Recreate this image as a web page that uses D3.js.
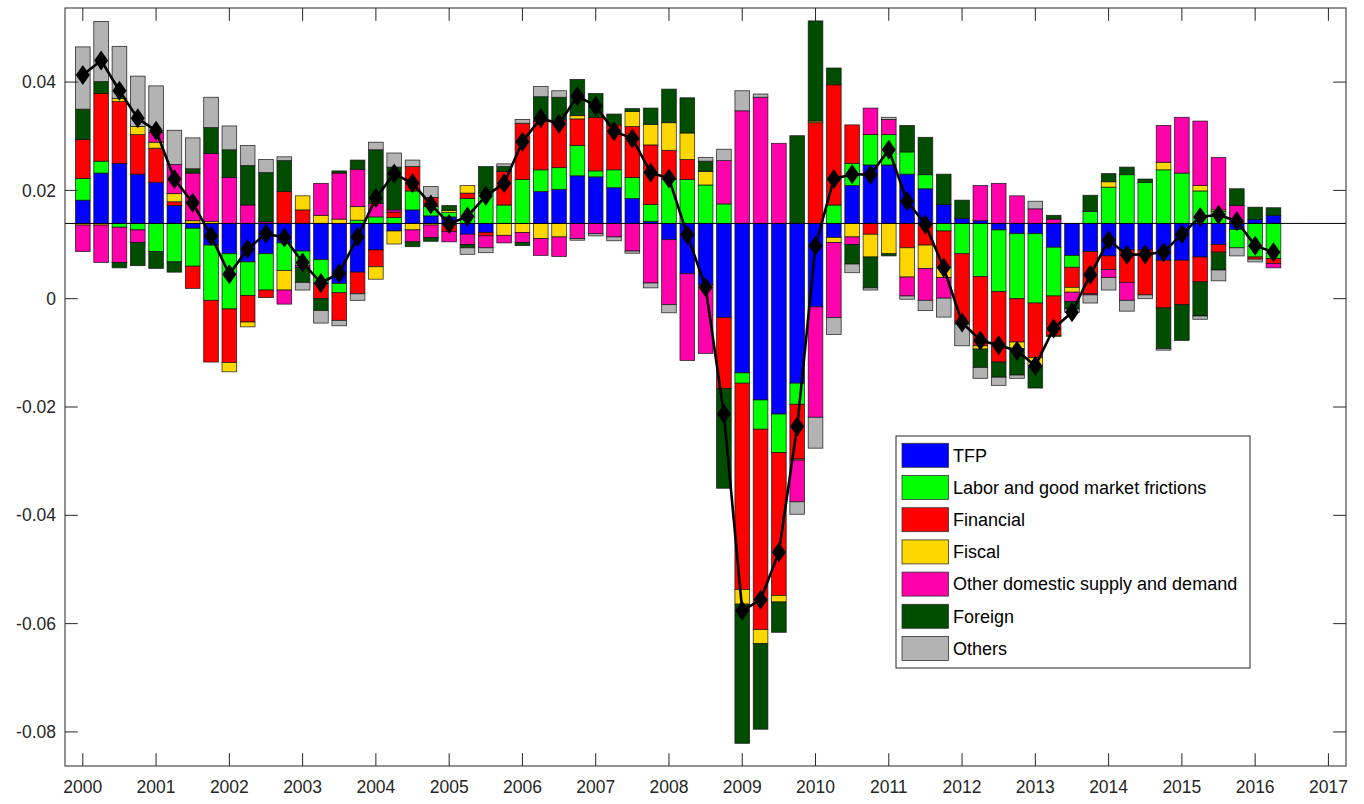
<!DOCTYPE html>
<html>
<head>
<meta charset="utf-8">
<script src="https://cdn.jsdelivr.net/npm/d3@7"></script>
<style>
  body { margin: 0; background: #fff; }
  svg { display: block; font-family: Arial, "Liberation Sans", Helvetica, sans-serif; }
  .tick-label { font-size: 17.5px; fill: #262626; }
  .legend-label { font-size: 18px; fill: #000; }
</style>
</head>
<body>
<svg id="chart" width="1364" height="804"></svg>
<script>
(function() {
  // quarterly data, 2000Q1 .. 2016Q2, contributions in 0.001 units
  var quarters = d3.range(66).map(function(i) { return 2000 + i * 0.25; });
  var baseline = 0.0139;

  var seriesNames = ['TFP', 'Labor and good market frictions', 'Financial', 'Fiscal',
    'Other domestic supply and demand', 'Foreign', 'Others'];
  var seriesColors = ['#0000ff', '#00ff00', '#ff0000', '#ffd700', '#ff00aa', '#004d00', '#b3b3b3'];

  var tfp = [4.3, 9.3, 11.1, 9.1, 7.6, 3.3, -0.9, -4.0, -5.6, -7.1, -5.6, -3.6, -5.1, -6.7, -11.1, -9.0,
    -4.9, -1.4, 2.5, 1.4, 1.2, -2.0, -1.7, 0, 0, 5.9, 6.3, 8.8, 8.6, 6.6, 4.6, 0.4,
    -3.0, -9.3, -11.3, -17.4, -27.6, -32.6, -35.2, -29.5, -15.4, -2.6, 7.0, 10.8, 10.8, 9.1, 6.4, 3.5,
    0.9, 0.5, -1.2, -1.9, -1.9, -4.4, -5.9, -5.2, -6.0, -4.9, -4.9, -6.8, -6.8, -6.2, -3.9, -1.1, 0.7, 1.5];
  var labor = [4.0, 2.2, -0.7, -1.2, -5.2, -7.1, -7.0, -10.2, -10.2, -6.2, -6.7, -5.1, -2.7, -4.4, -1.7, 0.6,
    1.2, 1.1, 3.5, 1.7, 0.8, 4.6, 5.6, 3.4, 8.1, 4.0, 4.0, 5.6, 1.1, 3.3, 3.9, 3.1,
    8.1, 8.1, 7.1, 3.6, -1.9, -5.4, -7.1, -3.9, 0, 3.4, 4.1, 5.6, 5.6, 4.1, 2.6, -1.4,
    -5.6, -9.8, -11.4, -12.0, -12.8, -9.0, -2.2, 2.2, 6.7, 9.0, 7.6, 9.9, 9.3, 6.0, 2.2, -3.4, -6.2, -6.5];
  var financial = [7.2, 12.5, 11.4, 7.3, 6.3, 0.7, -4.1, -11.4, -9.9, -4.9, -1.4, 5.9, 2.5, -2.8, -5.1, -4.0,
    -3.1, 1.0, 4.5, 1.7, -1.5, 1.0, -0.6, 6.2, 10.4, 9.0, 8.8, 4.9, 9.9, 8.3, 9.4, 11.0,
    5.4, 3.7, 0, -13.1, -38.1, -37.0, -26.4, -10.1, 18.6, 22.2, 7.1, -2.0, 0, -4.5, -4.0, -6.7,
    -13.0, -12.8, -13.0, -8.0, -10.1, -7.3, -3.7, -7.8, -2.5, -6.0, -8.3, -8.8, -8.2, -4.6, -1.4, 0, -0.4, -0.9];
  var fiscal = [-0.3, -0.3, 0.6, 1.5, 1.1, 1.5, 0.5, 0.4, -1.7, -0.9, 0, -3.6, 2.6, 1.5, 0.8, 2.5,
    -2.3, -2.4, -1.2, -0.3, 0.4, 1.4, 0, -2.2, -1.7, -2.8, -2.5, 0.6, 0, 0, 2.8, 3.8,
    5.1, 4.9, 2.5, 0, -2.7, -2.6, -1.2, -0.2, 0.3, -0.9, -2.5, -4.2, -5.6, -5.4, -4.3, -1.9,
    0, -0.6, 0, -1.2, -1.5, -0.2, -0.9, 0, 1.0, 0, 0, 1.4, 0, 1.0, 0.3, 0, 0, 0];
  var otherDomestic = [-4.9, -6.9, -6.5, -2.3, 1.8, 5.4, 8.8, 12.5, 8.5, 3.4, 0.3, -2.6, -0.3, 5.9, 8.5, 6.9,
    2.5, 0.4, -2.2, -2.3, -1.9, -1.9, -2.2, -1.4, -1.8, -3.1, -3.6, -2.8, -1.9, -2.5, -5.1, -11.0,
    -12.0, -16.0, -12.7, 8.0, 20.8, 23.3, 14.8, -7.7, -20.4, -13.9, -1.4, 4.9, 2.8, -3.5, -5.9, -3.8,
    0, 6.5, 7.4, 5.1, 2.7, 0.8, -1.7, -0.2, -1.5, -3.3, 0, 6.8, 10.3, 11.9, 9.7, 3.3, 0, -0.8];
  var foreign = [5.6, 2.2, -1.0, -4.3, -3.1, -1.9, 0.8, 4.8, 5.1, 7.3, 9.1, 5.7, -2.8, -2.2, 0.4, 1.7,
    9.9, 7.9, -0.9, -0.7, 0.9, -0.6, 4.9, 0.9, -0.6, 4.5, 4.2, 6.7, 4.4, 2.0, 0.5, 3.0,
    6.2, 6.5, 1.9, -18.4, -25.7, -15.8, -5.6, 16.2, 18.5, 3.1, -3.6, -5.7, -0.4, 4.9, 6.9, 5.6,
    3.4, -3.4, -2.8, -4.9, -4.1, 0.7, -1.4, 3.0, 1.5, 1.4, 0.6, -7.5, -6.6, -6.3, -3.3, 3.1, 2.3, 1.4];
  var others = [11.5, 11.1, 9.6, 9.3, 8.6, 6.3, 5.7, 5.6, 4.4, 3.7, 2.4, 0.7, -1.4, -2.3, -1.0, -1.2,
    1.4, 2.6, 1.2, 2.0, 0, -1.2, -0.9, 0.5, 0.7, 1.9, 1.2, -0.3, -0.4, -0.7, -0.4, -0.9,
    -1.5, 0, 0.7, 2.1, 3.7, 0.6, 0, -2.3, -5.7, -3.1, -1.6, -0.4, 0.4, -0.6, -1.9, -3.5,
    -4.0, -2.0, -1.5, -0.6, 1.4, 0, -0.6, -1.5, -2.3, -2.0, -0.7, -0.3, 0, -0.6, -2.0, -1.5, -0.5, 0];

  var yTicks = [0.04, 0.02, 0, -0.02, -0.04, -0.06, -0.08];
  var xTicks = d3.range(2000, 2018);

  var seriesValues = [tfp, labor, financial, fiscal, otherDomestic, foreign, others];

  var margin = { left: 65, top: 8, right: 1346, bottom: 766 };
  var svg = d3.select('#chart');

  var x = d3.scaleLinear().domain([1999.757, 2017.24]).range([margin.left, margin.right]);
  var y = d3.scaleLinear().domain([-0.08629, 0.05368]).range([margin.bottom, margin.top]);
  var barWidth = (x(0.25) - x(0)) * 0.8;

  var rows = quarters.map(function(q, i) {
    var row = { q: q };
    seriesNames.forEach(function(name, k) { row[name] = seriesValues[k][i] / 1000; });
    return row;
  });

  var stacked = d3.stack().keys(seriesNames).offset(d3.stackOffsetDiverging)(rows);

  var totals = rows.map(function(row) {
    return baseline + d3.sum(seriesNames, function(name) { return row[name]; });
  });

  var plot = svg.append('g');

  // bars
  stacked.forEach(function(layer, k) {
    plot.append('g').selectAll('rect').data(layer).enter().append('rect')
      .attr('x', function(d) { return x(d.data.q) - barWidth / 2; })
      .attr('width', barWidth)
      .attr('y', function(d) { return y(baseline + d[1]); })
      .attr('height', function(d) { return Math.abs(y(baseline + d[0]) - y(baseline + d[1])); })
      .attr('fill', seriesColors[k])
      .attr('stroke', '#111')
      .attr('stroke-width', 0.8)
      .attr('stroke-opacity', 0.85);
  });

  // baseline
  plot.append('line')
    .attr('x1', margin.left).attr('x2', margin.right)
    .attr('y1', y(baseline)).attr('y2', y(baseline))
    .attr('stroke', '#000').attr('stroke-width', 1);

  // total line with diamonds
  var line = d3.line()
    .x(function(d, i) { return x(quarters[i]); })
    .y(function(d) { return y(d); });

  plot.append('path').datum(totals)
    .attr('d', line)
    .attr('fill', 'none')
    .attr('stroke', '#000')
    .attr('stroke-width', 2.6)
    .attr('stroke-linejoin', 'round');

  plot.append('g').selectAll('path').data(totals).enter().append('path')
    .attr('transform', function(d, i) { return 'translate(' + x(quarters[i]) + ',' + y(d) + ')'; })
    .attr('d', 'M0,-10L7,0L0,10L-7,0Z')
    .attr('fill', '#000');

  // frame and ticks
  var axes = svg.append('g').attr('stroke', '#262626').attr('stroke-width', 1);
  var tickLen = 12.8;

  axes.append('rect')
    .attr('x', margin.left).attr('y', margin.top)
    .attr('width', margin.right - margin.left).attr('height', margin.bottom - margin.top)
    .attr('fill', 'none');

  axes.selectAll('.y-tick-l').data(yTicks).enter().append('line')
    .attr('x1', margin.left).attr('x2', margin.left + tickLen)
    .attr('y1', y).attr('y2', y);
  axes.selectAll('.y-tick-r').data(yTicks).enter().append('line')
    .attr('x1', margin.right).attr('x2', margin.right - tickLen)
    .attr('y1', y).attr('y2', y);
  axes.selectAll('.x-tick-b').data(xTicks).enter().append('line')
    .attr('x1', x).attr('x2', x)
    .attr('y1', margin.bottom).attr('y2', margin.bottom - tickLen);
  axes.selectAll('.x-tick-t').data(xTicks).enter().append('line')
    .attr('x1', x).attr('x2', x)
    .attr('y1', margin.top).attr('y2', margin.top + tickLen);

  svg.append('g').selectAll('text').data(yTicks).enter().append('text')
    .classed('tick-label', true)
    .attr('x', margin.left - 9)
    .attr('y', y)
    .attr('dy', '0.35em')
    .attr('text-anchor', 'end')
    .text(function(d) { return d === 0 ? '0' : String(d); });

  svg.append('g').selectAll('text').data(xTicks).enter().append('text')
    .classed('tick-label', true)
    .attr('x', x)
    .attr('y', margin.bottom + 21)
    .attr('dy', '0.35em')
    .attr('text-anchor', 'middle')
    .text(String);

  // legend
  var legend = svg.append('g').attr('transform', 'translate(896,436)');
  legend.append('rect')
    .attr('width', 354).attr('height', 232)
    .attr('fill', '#fff').attr('stroke', '#262626').attr('stroke-width', 1);

  var items = legend.selectAll('.item').data(seriesNames).enter().append('g')
    .attr('transform', function(d, i) { return 'translate(6,' + (19.3 + i * 32.2) + ')'; });
  items.append('rect')
    .attr('x', 0).attr('y', -12).attr('width', 46.5).attr('height', 24)
    .attr('fill', function(d, i) { return seriesColors[i]; })
    .attr('stroke', '#333').attr('stroke-width', 0.8);
  items.append('text')
    .classed('legend-label', true)
    .attr('x', 51).attr('y', 0).attr('dy', '0.35em')
    .text(String);
})();
</script>
</body>
</html>
